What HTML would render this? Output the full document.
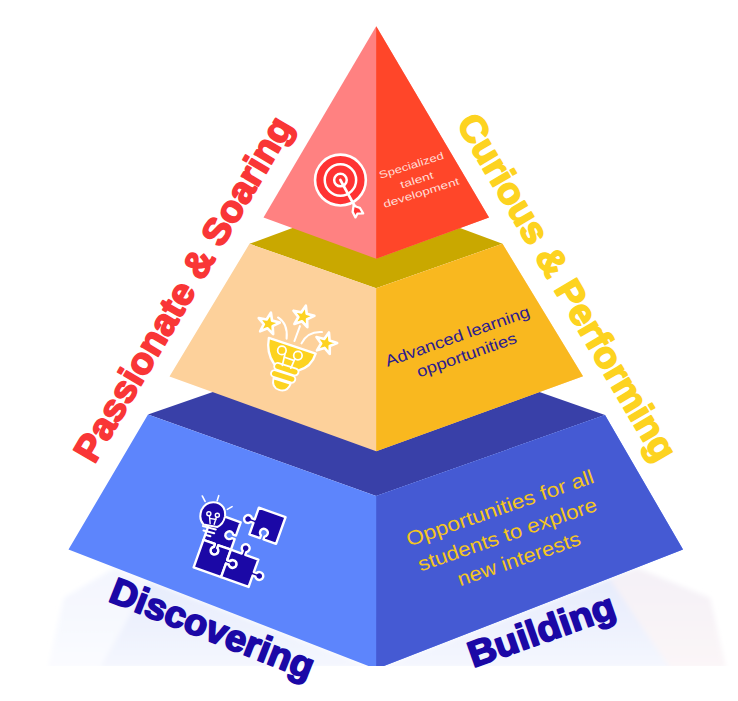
<!DOCTYPE html>
<html lang="en"><head><meta charset="utf-8"><title>Pyramid</title>
<style>
html,body{margin:0;padding:0;background:#fff;}
body{width:738px;height:701px;overflow:hidden;}
svg{display:block;}
text{font-family:"Liberation Sans",sans-serif;}
.b{font-weight:bold;}
</style></head><body>
<svg width="738" height="701" viewBox="0 0 738 701">
<defs>
<clipPath id="clip"><rect x="0" y="0" width="738" height="666"/></clipPath>
<linearGradient id="refl" x1="0" y1="0" x2="0" y2="1"><stop offset="0" stop-color="#e4eafc"/><stop offset="1" stop-color="#f5f7fe"/></linearGradient>
<filter id="blur" x="-5%" y="-5%" width="110%" height="110%"><feGaussianBlur stdDeviation="2.5"/></filter>
<linearGradient id="reflL" x1="0" y1="0" x2="1" y2="0"><stop offset="0" stop-color="#ffffff"/><stop offset="1" stop-color="#ffffff" stop-opacity="0"/></linearGradient>
</defs>
<rect width="738" height="701" fill="#fff"/>
<g clip-path="url(#clip)">
<g filter="url(#blur)"><polygon points="115.0,568.0 64.0,598.0 48.0,668.0 726.0,668.0 710.0,598.0 637.0,568.0 376.2,669.0" fill="url(#refl)"/><polygon points="115.0,568.0 64.0,598.0 48.0,668.0 100.0,668.0 150.0,580.0" fill="#fff" opacity="0.55"/><polygon points="637.0,568.0 710.0,598.0 726.0,668.0 670.0,668.0 610.0,580.0" fill="#fff5f3" opacity="0.6"/></g>
<polygon points="148.0,414.5 376.2,335.0 605.0,415.0 376.2,496.0" fill="#3940a8"/>
<polygon points="148.0,414.5 376.2,496.0 605.0,415.0 683.0,549.5 376.2,669.0 68.5,549.5" fill="#5d85fc"/>
<polygon points="605.0,415.0 376.2,496.0 376.2,669.0 683.0,549.5" fill="#455ad3"/>
<polygon points="249.5,243.8 376.2,197.0 502.5,243.8 376.2,288.3" fill="#c9a800"/>
<polygon points="249.5,243.8 376.2,288.3 502.5,243.8 583.0,376.2 376.2,451.2 169.5,376.5" fill="#fdd19b"/>
<polygon points="502.5,243.8 376.2,288.3 376.2,451.2 583.0,376.2" fill="#f9b81f"/>
<polygon points="376.2,26.3 489.0,217.5 376.2,258.7 263.5,217.5" fill="#ff8181"/>
<polygon points="376.2,26.3 376.2,258.7 489.0,217.5" fill="#ff4629"/>
</g>
<g fill="none" stroke="#fff">
<circle cx="340.44" cy="180.05" r="25.4" fill="#ff3333" stroke-width="2.6"/>
<circle cx="340.44" cy="180.05" r="15.7" stroke-width="2.5"/>
<circle cx="340.44" cy="180.05" r="6.3" stroke-width="2.5"/>
<line x1="340.44" y1="180.05" x2="355.46" y2="207.39" stroke-width="2.8" stroke-linecap="round"/>
<polygon points="353.66,205.21 352.63,211.89 355.46,217.41 357.38,213.68 363.16,213.43 359.82,207.78 356.48,206.75" fill="#ff3333" stroke-width="2.3" stroke-linejoin="round"/>
</g>
<g transform="translate(245 290) scale(0.15699)" stroke="#fff" stroke-linejoin="round" stroke-linecap="round">
<polygon points="165.0,144.6 172.3,194.9 221.6,207.5 176.0,230.0 179.3,280.8 143.8,244.3 96.5,263.2 120.2,218.1 87.6,179.0 137.8,187.6" fill="#fdd320" stroke-width="17"/>
<polygon points="387.4,100.1 393.0,150.7 441.8,165.0 395.4,185.9 397.0,236.8 362.7,199.1 314.8,216.3 340.1,172.1 308.9,131.8 358.8,142.2" fill="#fdd320" stroke-width="17"/>
<polygon points="534.8,270.8 538.6,321.5 587.0,337.5 539.9,356.8 539.6,407.7 506.7,368.8 458.3,384.3 485.0,341.0 455.3,299.7 504.7,311.8" fill="#fdd320" stroke-width="17"/>
<path d="M265,310 Q275,215 210,175" fill="none" stroke-width="13"/>
<path d="M315,325 L350,230" fill="none" stroke-width="13"/>
<path d="M360,340 Q400,262 490,268" fill="none" stroke-width="13"/>
<path d="M152,305 L450,405 Q425,490 335,515 L185,470 Q135,400 152,305 Z" fill="#fdd320" stroke-width="15"/>
<g transform="rotate(18 240 560)">
<rect x="165" y="478" width="160" height="44" rx="22" fill="#fdd320" stroke-width="12"/>
<rect x="160" y="528" width="160" height="44" rx="22" fill="#fdd320" stroke-width="12"/>
<path d="M185,580 H300 Q295,640 242,640 Q190,640 185,580 Z" fill="#fdd320" stroke-width="12"/>
</g>
<g fill="none" stroke-width="11">
<circle cx="235" cy="385" r="27"/>
<circle cx="337" cy="418" r="27"/>
<path d="M255,405 L238,480"/>
<path d="M318,438 L292,498"/>
<path d="M252,428 L310,448"/>
</g>
</g>
<g transform="matrix(27.4558 9.8056 9.8056 -27.4558 193.630 567.379)" fill="#1b08a6" stroke="#fff" stroke-width="0.0823" stroke-linejoin="round">
<path d="M0.0000,1.0000 L0.4150,1.0000 L0.4150,0.8983 A0.135,0.135 0 1 1 0.5450,0.8983 L0.5450,1.0000 L1.0000,1.0000 L1.0000,1.3850 L0.8983,1.3850 A0.135,0.135 0 1 0 0.8983,1.5150 L1.0000,1.5150 L1.0000,2.0000 L0.0000,2.0000 L0.0000,1.0000 Z"/>
<path d="M0.0000,0.0000 L1.0000,0.0000 L1.0000,0.4950 L1.1017,0.4950 A0.135,0.135 0 1 1 1.1017,0.6250 L1.0000,0.6250 L1.0000,1.0000 L0.5450,1.0000 L0.5450,0.8983 A0.135,0.135 0 1 0 0.4150,0.8983 L0.4150,1.0000 L0.0000,1.0000 L0.0000,0.0000 Z"/>
<path d="M1.0000,0.0000 L2.0000,0.0000 L2.0000,0.4150 L2.1017,0.4150 A0.135,0.135 0 1 1 2.1017,0.5450 L2.0000,0.5450 L2.0000,1.0000 L1.5250,1.0000 L1.5250,1.1017 A0.135,0.135 0 1 1 1.3950,1.1017 L1.3950,1.0000 L1.0000,1.0000 L1.0000,0.6250 L1.1017,0.6250 A0.135,0.135 0 1 0 1.1017,0.4950 L1.0000,0.4950 L1.0000,0.0000 Z"/>
<path d="M1.4200,1.7100 L1.8050,1.7100 L1.8050,1.8117 A0.135,0.135 0 1 0 1.9350,1.8117 L1.9350,1.7100 L2.3900,1.7100 L2.3900,2.6800 L1.4200,2.6800 L1.4200,2.2550 L1.3183,2.2550 A0.135,0.135 0 1 1 1.3183,2.1250 L1.4200,2.1250 L1.4200,1.7100 Z"/>
</g>
<g transform="translate(185 485) scale(0.15691)" stroke="#fff" stroke-linecap="round" fill="none">
<path d="M118,252 Q85,215 105,160 Q135,100 200,112 Q262,130 255,200 Q245,250 205,268 Z" fill="#1b08a6" stroke-width="13"/>
<path d="M114,262 L196,284" stroke-width="13"/>
<path d="M118,290 L186,308" stroke-width="13"/>
<path d="M134,318 L162,326" stroke-width="13"/>
<path d="M110,70 L128,105 M215,68 L205,100 M270,155 L300,138" stroke-width="10"/>
<circle cx="152" cy="183" r="13" stroke-width="9"/><circle cx="206" cy="193" r="13" stroke-width="9"/>
<path d="M156,195 L160,245 M200,205 L186,250 M157,213 L198,220" stroke-width="9"/>
</g>
<text transform="translate(94.3 464.7) rotate(-59.5)" font-size="37" textLength="393.0" lengthAdjust="spacingAndGlyphs" fill="#f93636" color="#f93636" font-weight="bold" stroke="currentColor" stroke-width="1.8" stroke-linejoin="round">Passionate &amp; Soaring</text>
<text transform="translate(456.0 123.3) rotate(59.5)" font-size="37" textLength="395.0" lengthAdjust="spacingAndGlyphs" fill="#fdd320" color="#fdd320" font-weight="bold" stroke="currentColor" stroke-width="1.8" stroke-linejoin="round">Curious &amp; Performing</text>
<text transform="translate(107.2 600.8) rotate(21.5)" font-size="37" textLength="216.0" lengthAdjust="spacingAndGlyphs" fill="#1b08a6" color="#1b08a6" font-weight="bold" stroke="currentColor" stroke-width="1.8" stroke-linejoin="round">Discovering</text>
<text transform="translate(473.2 667.7) rotate(-19.5)" font-size="36.5" textLength="153.5" lengthAdjust="spacingAndGlyphs" fill="#1b08a6" color="#1b08a6" font-weight="bold" stroke="currentColor" stroke-width="1.8" stroke-linejoin="round">Building</text>
<text transform="translate(380.3 178.8) rotate(-17.5)" font-size="10.3" textLength="67.4" lengthAdjust="spacingAndGlyphs" fill="#ffddd6" color="#ffddd6">Specialized</text>
<text transform="translate(401.5 188.5) rotate(-17.5)" font-size="10.3" textLength="34.4" lengthAdjust="spacingAndGlyphs" fill="#ffddd6" color="#ffddd6">talent</text>
<text transform="translate(384.4 208.0) rotate(-17.5)" font-size="10.3" textLength="79.2" lengthAdjust="spacingAndGlyphs" fill="#ffddd6" color="#ffddd6">development</text>
<text transform="translate(387.6 366.8) rotate(-19.5)" font-size="16" textLength="152.0" lengthAdjust="spacingAndGlyphs" fill="#2b1b8f" color="#2b1b8f">Advanced learning</text>
<text transform="translate(419.0 377.5) rotate(-19.5)" font-size="16" textLength="105.0" lengthAdjust="spacingAndGlyphs" fill="#2b1b8f" color="#2b1b8f">opportunities</text>
<text transform="translate(409.0 546.5) rotate(-19)" font-size="20" textLength="197.0" lengthAdjust="spacingAndGlyphs" fill="#f5c61e" color="#f5c61e">Opportunities for all</text>
<text transform="translate(420.8 571.4) rotate(-19)" font-size="20" textLength="188.0" lengthAdjust="spacingAndGlyphs" fill="#f5c61e" color="#f5c61e">students to explore</text>
<text transform="translate(460.2 586.3) rotate(-19)" font-size="20" textLength="129.0" lengthAdjust="spacingAndGlyphs" fill="#f5c61e" color="#f5c61e">new interests</text>
</svg>
</body></html>
